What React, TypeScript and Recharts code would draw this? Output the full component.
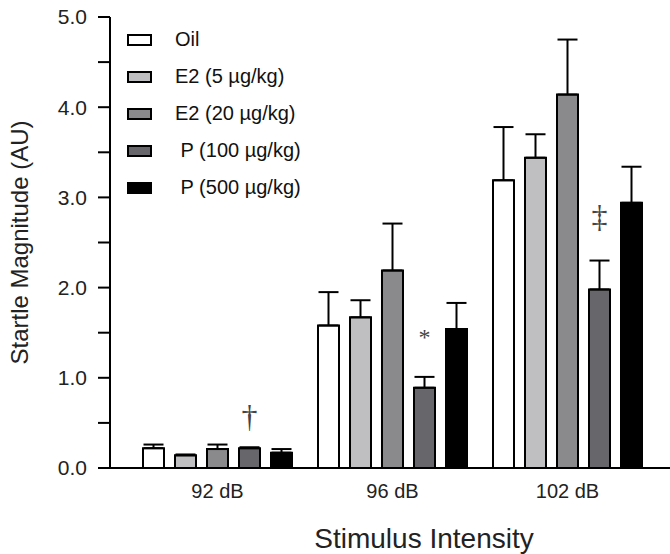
import React from 'react';
import { BarChart, Bar, XAxis, YAxis, ErrorBar, Legend, LabelList, Label } from 'recharts';

const intensities = ['92 dB', '96 dB', '102 dB'];

const oil = [0.22, 1.58, 3.19];
const oilSem = [0.04, 0.37, 0.59];
const e2Low = [0.14, 1.67, 3.44];
const e2LowSem = [0.01, 0.19, 0.26];
const e2High = [0.21, 2.19, 4.14];
const e2HighSem = [0.05, 0.52, 0.61];
const pLow = [0.22, 0.89, 1.98];
const pLowSem = [0.01, 0.12, 0.32];
const pHigh = [0.17, 1.54, 2.94];
const pHighSem = [0.04, 0.29, 0.4];

// significance marks sit over the P (100) bars
const marks = ['\u2020', '*', '\u2021'];
const markLevel = [0.58, 1.45, 2.79];

const yTicks = [0, 0.5, 1, 1.5, 2, 2.5, 3, 3.5, 4, 4.5, 5];

const series = [
    { key: 'oil', name: 'Oil', fill: '#ffffff' },
    { key: 'e2Low', name: 'E2 (5 \u00b5g/kg)', fill: '#bfbfc1' },
    { key: 'e2High', name: 'E2 (20 \u00b5g/kg)', fill: '#8a8a8c' },
    { key: 'pLow', name: '\u00a0P (100 \u00b5g/kg)', fill: '#67676b' },
    { key: 'pHigh', name: '\u00a0P (500 \u00b5g/kg)', fill: '#000000' },
];

const rows = intensities.map((name, i) => ({
    name,
    oil: oil[i],
    oilErr: [0, oilSem[i]],
    e2Low: e2Low[i],
    e2LowErr: [0, e2LowSem[i]],
    e2High: e2High[i],
    e2HighErr: [0, e2HighSem[i]],
    pLow: pLow[i],
    pLowErr: [0, pLowSem[i]],
    pHigh: pHigh[i],
    pHighErr: [0, pHighSem[i]],
    mark: marks[i],
}));

const FONT = '"Liberation Sans", Arial, sans-serif';

const renderMark = (props: any) => {
    const vb = props.viewBox ?? props;
    const { x, y, width, height } = vb;
    const i = props.index;
    const base = y + height;
    const perUnit = height / rows[i].pLow;
    const cy = base - markLevel[i] * perUnit;
    return (
        <text
            x={x + width / 2}
            y={cy}
            textAnchor="middle"
            dominantBaseline="central"
            fontFamily='"Liberation Serif", serif'
            fontSize={i === 1 ? 24 : 32}
            fill="#444"
        >
            {props.value}
        </text>
    );
};

const LegendBox = () => (
    <div style={{ fontFamily: FONT, fontSize: 20, color: '#111' }}>
        {series.map((s) => (
            <div key={s.key} style={{ display: 'flex', alignItems: 'center', height: 37 }}>
                <div style={{ width: 21, height: 8, border: '2px solid #000', background: s.fill, marginRight: 23 }} />
                <span style={{ whiteSpace: 'pre' }}>{s.name}</span>
            </div>
        ))}
    </div>
);

const App: React.FC = () => {
    return (
        <div style={{ position: 'absolute', left: 0, top: 0, width: 670, height: 554, background: '#fff' }}>
            <BarChart
                width={670}
                height={554}
                data={rows}
                margin={{ top: 17, right: 0, left: 0, bottom: 0 }}
                barSize={21}
                barGap={11}
            >
                <XAxis
                    dataKey="name"
                    height={86}
                    padding={{ left: 20, right: 15 }}
                    axisLine={{ stroke: '#000', strokeWidth: 2 }}
                    tickLine={false}
                    tickSize={6}
                    tickMargin={10}
                    tick={{ fill: '#222', fontSize: 20, fontFamily: FONT }}
                >
                    <Label
                        value="Stimulus Intensity"
                        position="insideBottom"
                        offset={6}
                        dx={34}
                        style={{ fill: '#222', fontSize: 28, fontFamily: FONT }}
                    />
                </XAxis>
                <YAxis
                    width={110}
                    domain={[0, 5]}
                    ticks={yTicks}
                    interval={0}
                    tickSize={12}
                    tickMargin={11}
                    axisLine={{ stroke: '#000', strokeWidth: 2 }}
                    tickLine={{ stroke: '#000', strokeWidth: 2 }}
                    tickFormatter={(v: number) => (Number.isInteger(v) ? v.toFixed(1) : '')}
                    tick={{ fill: '#222', fontSize: 21, fontFamily: FONT }}
                >
                    <Label
                        value="Startle Magnitude (AU)"
                        angle={-90}
                        position="insideLeft"
                        offset={19}
                        style={{ textAnchor: 'middle', fill: '#222', fontSize: 24, fontFamily: FONT }}
                    />
                </YAxis>
                <Legend
                    layout="vertical"
                    align="center"
                    verticalAlign="middle"
                    wrapperStyle={{ left: 127, top: 21, width: 240 }}
                    content={() => <LegendBox />}
                />
                {series.map((s) => (
                    <Bar
                        key={s.key}
                        dataKey={s.key}
                        name={s.name}
                        fill={s.fill}
                        stroke="#000"
                        strokeWidth={2}
                        isAnimationActive={false}
                    >
                        <ErrorBar
                            dataKey={`${s.key}Err`}
                            width={10}
                            stroke="#000"
                            strokeWidth={2}
                            direction="y"
                        />
                        {s.key === 'pLow' && <LabelList dataKey="mark" content={renderMark} />}
                    </Bar>
                ))}
            </BarChart>
        </div>
    );
};

export default App;
